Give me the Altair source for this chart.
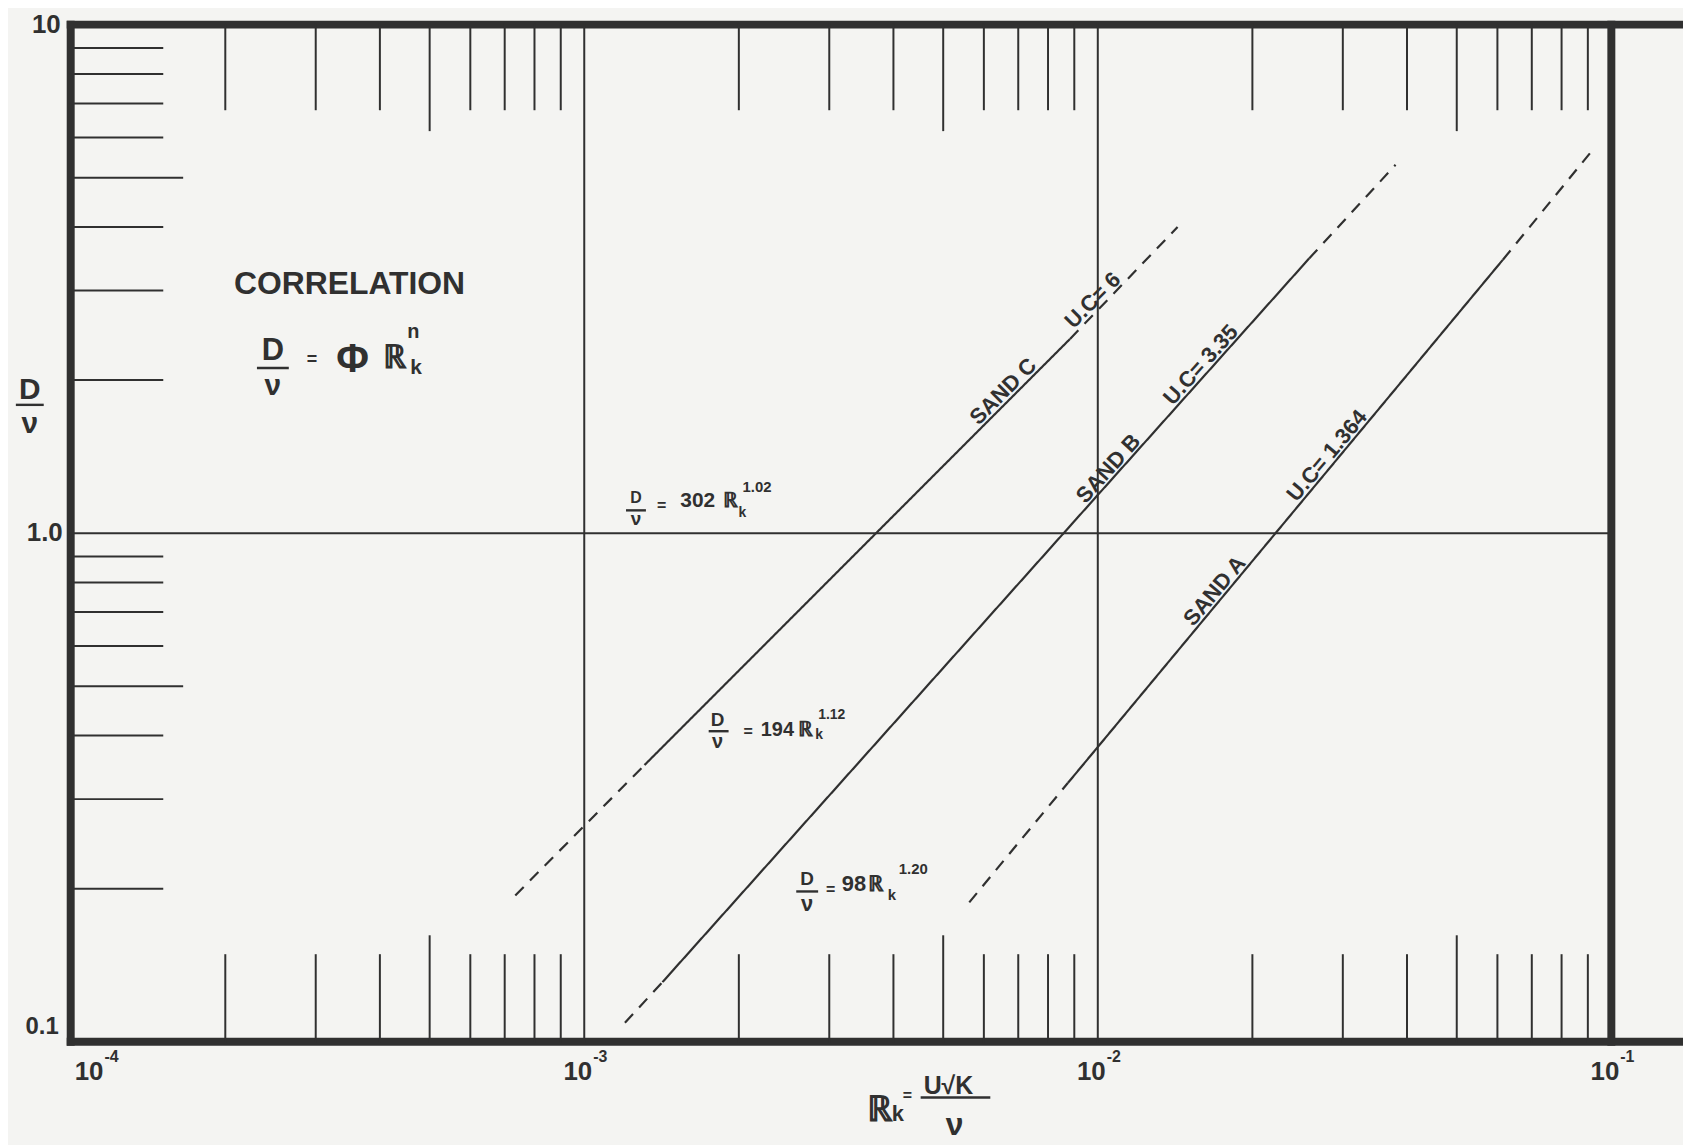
import altair as alt
import pandas as pd

# ---------------- values ----------------
# break points of each correlation line (R_k, D/V); segments: dashed, solid, dashed
sandA_R = [5.62e-3, 8.75e-3, 6.15e-2, 9.30e-2]
sandA_D = [0.188, 0.323, 3.45, 5.75]
sandB_R = [1.20e-3, 1.42e-3, 2.58e-2, 3.80e-2]
sandB_D = [0.109, 0.131, 3.47, 5.30]
sandC_R = [7.34e-4, 1.31e-3, 8.83e-3, 1.43e-2]
sandC_D = [0.194, 0.350, 2.41, 4.00]
segment_style = ["dashed", "solid", "dashed"]

line_labels = ["SAND  C", "U.C=  6", "SAND  B", "U.C= 3.35", "SAND  A", "U.C= 1.364"]
line_label_R = [6.75e-3, 1.009e-2, 1.084e-2, 1.640e-2, 1.747e-2, 2.892e-2]
line_label_D = [1.84, 2.78, 1.30, 2.08, 0.748, 1.38]
line_label_angle = [315, 315, 312, 312, 310, 310]

eq_coef = ["302", "194", "98"]
eq_exp = ["1.02", "1.12", "1.20"]
eq_R = [1.206e-3, 1.747e-3, 2.587e-3]
eq_D = [1.109, 0.408, 0.1975]

x_tick_values = [1e-4, 1e-3, 1e-2, 1e-1]
x_tick_exp = ["-4", "-3", "-2", "-1"]
y_tick_values = [10, 1.0, 0.1]
y_tick_labels = ["10", "1.0", "0.1"]
minor_mult = [2, 3, 4, 5, 6, 7, 8, 9]
x_decades = [1e-4, 1e-3, 1e-2]
y_decades = [0.1, 1.0]
grid_x = [1e-3, 1e-2]
grid_y = [1.0]

# ---------------- layout ----------------
W, H = 1548, 1022
X_DOM = [1e-4, 1e-1]
Y_DOM = [0.1, 10]
PXX = W / 3.0   # pixels per decade, x
PXY = H / 2.0   # pixels per decade, y
INK = "#303030"
FONT = "Liberation Sans"


def at(R0, D0, dx, dy):
    """shift a data anchor by a pixel offset (log scales)"""
    return R0 * 10 ** (dx / PXX), D0 * 10 ** (-dy / PXY)


# ---- frame, grid and minor ticks (rules) ----
rules = []
def rule(R, R2, D, D2, w):
    rules.append(dict(R=R, R2=R2, D=D, D2=D2, w=w))

rule(X_DOM[0], X_DOM[0], Y_DOM[0], Y_DOM[1], 8)
rule(X_DOM[1], X_DOM[1], Y_DOM[0], Y_DOM[1], 8)
R_edge = X_DOM[1] * 10 ** (72 / PXX)
rule(X_DOM[0], R_edge, Y_DOM[1], Y_DOM[1], 8)
rule(X_DOM[0], R_edge, Y_DOM[0], Y_DOM[0], 8)
for g in grid_x:
    rule(g, g, Y_DOM[0], Y_DOM[1], 2)
for g in grid_y:
    rule(X_DOM[0], X_DOM[1], g, g, 2)
for d in x_decades:
    for m in minor_mult:
        v = d * m
        long = m == 5
        _, top_in = at(1, Y_DOM[1], 0, 106 if long else 85)
        _, bot_in = at(1, Y_DOM[0], 0, -(106 if long else 87))
        rule(v, v, top_in, Y_DOM[1], 2)
        rule(v, v, Y_DOM[0], bot_in, 2)
for d in y_decades:
    for m in minor_mult:
        v = d * m
        long = m == 5
        r_in, _ = at(X_DOM[0], 1, 112 if long else 92, 0)
        rule(X_DOM[0], r_in, v, v, 2)

# ---- correlation line segments ----
segs = []
for name, Rs, Ds in [("A", sandA_R, sandA_D), ("B", sandB_R, sandB_D), ("C", sandC_R, sandC_D)]:
    for i, st in enumerate(segment_style):
        segs.append(dict(R=Rs[i], R2=Rs[i + 1], D=Ds[i], D2=Ds[i + 1], style=st))

# ---- text pieces and fraction bars ----
texts = []
bars = []
def txt(t, R0, D0, dx, dy, size, align, angle=0):
    R, D = at(R0, D0, dx, dy)
    texts.append(dict(t=t, R=R, D=D, size=size, align=align, angle=angle))

def bar(R0, D0, w):
    R2, _ = at(R0, D0, w, 0)
    bars.append(dict(R=R0, R2=R2, D=D0, D2=D0))

eq_layouts = [
    dict(w=20, pieces=[("D", 10, -7, 16, "center"), ("ν", 10, 15, 19, "center"), ("=", 31, 1, 16, "left"),
                       ("#c", 72, -3, 21, "center"), ("ℝ", 97, -3, 21, "left"), ("k", 113, 7, 14, "left"),
                       ("#e", 117, -18, 15, "left")]),
    dict(w=20, pieces=[("D", 9, -5, 19, "center"), ("ν", 9, 17, 20, "center"), ("=", 35, 6, 16, "left"),
                       ("#c", 69, 5, 20, "center"), ("ℝ", 90, 5, 21, "left"), ("k", 107, 8, 14, "left"),
                       ("#e", 110, -12, 14, "left")]),
    dict(w=22, pieces=[("D", 11, -6, 19, "center"), ("ν", 11, 20, 22, "center"), ("=", 30, 4, 16, "left"),
                       ("#c", 58, 0, 22, "center"), ("ℝ", 72, 0, 22, "left"), ("k", 92, 9, 15, "left"),
                       ("#e", 103, -18, 15, "left")]),
]
for i, lay in enumerate(eq_layouts):
    bar(eq_R[i], eq_D[i], lay["w"])
    for t, dx, dy, s, a in lay["pieces"]:
        t = eq_coef[i] if t == "#c" else (eq_exp[i] if t == "#e" else t)
        txt(t, eq_R[i], eq_D[i], dx, dy, s, a)

# main correlation block
mR, mD = 2.305e-4, 2.113
bar(mR, mD, 32)
for t, dx, dy, s, a in [("CORRELATION", 93, -74, 32, "center"), ("D", 16, -8, 31, "center"),
                        ("ν", 16, 27, 30, "center"), ("=", 50, -3, 18, "left"), ("Φ", 96, 4, 40, "center"),
                        ("ℝ", 127, 0, 33, "left"), ("k", 154, 6, 21, "left"), ("n", 151, -30, 20, "left")]:
    txt(t, mR, mD, dx, dy, s, a)

# y axis title  D/ν
yR, yD = 7.82e-5, 1.788
bar(yR, yD, 28)
txt("D", yR, yD, 14, -6, 30, "center")
txt("ν", yR, yD, 14, 28, 30, "center")

# x axis title  R_k = U√K / ν
xR, xD = 4.519e-3, 0.0777
bar(xR, xD, 70)
for t, dx, dy, s, a in [("ℝ", -54, 24, 36, "left"), ("k", -29, 24, 22, "left"), ("=", -18, 4, 16, "left"),
                        ("U√K", 3, -4, 25, "left"), ("ν", 34, 38, 32, "center")]:
    txt(t, xR, xD, dx, dy, s, a)

# tick labels
for v, lab, dx, dy, s in zip(y_tick_values, y_tick_labels, [-10, -8, -12], [8, 8, -8], [26, 26, 24]):
    txt(lab, X_DOM[0], v, dx, dy, s, "right")
for i, (v, e) in enumerate(zip(x_tick_values, x_tick_exp)):
    if i == 0:
        txt("10", v, Y_DOM[0], 4, 38, 26, "left")
        txt(e, v, Y_DOM[0], 34, 20, 16, "left")
    else:
        txt("10", v, Y_DOM[0], 8, 38, 26, "right")
        txt(e, v, Y_DOM[0], 9, 20, 16, "left")

# labels along the lines
for t, R, D, a in zip(line_labels, line_label_R, line_label_D, line_label_angle):
    texts.append(dict(t=t, R=R, D=D, size=22, align="line", angle=a))

rules_df = pd.DataFrame(rules)
segs_df = pd.DataFrame(segs)
bars_df = pd.DataFrame(bars)
texts_df = pd.DataFrame(texts)

xs = alt.Scale(type="log", domain=X_DOM)
ys = alt.Scale(type="log", domain=Y_DOM)
X = alt.X("R:Q", scale=xs, axis=None)
Y = alt.Y("D:Q", scale=ys, axis=None)

frame = alt.Chart(rules_df).mark_rule(color=INK, strokeCap="square").encode(
    x=X, x2="R2:Q", y=Y, y2="D2:Q", strokeWidth=alt.StrokeWidth("w:Q", scale=None))

lines = alt.Chart(segs_df).mark_rule(color=INK, strokeWidth=2.2).encode(
    x=X, x2="R2:Q", y=Y, y2="D2:Q",
    strokeDash=alt.StrokeDash("style:N", scale=alt.Scale(domain=["solid", "dashed"], range=[[1, 0], [12, 9]]),
                              legend=None))

fracs = alt.Chart(bars_df).mark_rule(color=INK, strokeWidth=2.4).encode(x=X, x2="R2:Q", y=Y, y2="D2:Q")

layers = [frame, lines, fracs]
for al in ["left", "center", "right"]:
    layers.append(
        alt.Chart(texts_df).transform_filter(alt.datum.align == al)
        .mark_text(align=al, baseline="alphabetic", font=FONT, fontWeight="bold", color=INK)
        .encode(x=X, y=Y, text="t:N", size=alt.Size("size:Q", scale=None),
                angle=alt.Angle("angle:Q", scale=None))
    )
layers.append(
    alt.Chart(texts_df).transform_filter(alt.datum.align == "line")
    .mark_text(align="center", baseline="alphabetic", font=FONT, fontWeight="bold", color=INK, dy=-3)
    .encode(x=X, y=Y, text="t:N", size=alt.Size("size:Q", scale=None),
            angle=alt.Angle("angle:Q", scale=None))
)

chart = alt.layer(*layers).properties(
    width=W, height=H,
    autosize=alt.AutoSizeParams(type="none"),
    padding={"left": 63, "top": 14, "right": 72, "bottom": 101},
    background="#f4f4f2",
).configure_view(stroke=None)

chart.save("out.html", embed_options={"renderer": "svg", "actions": False})
